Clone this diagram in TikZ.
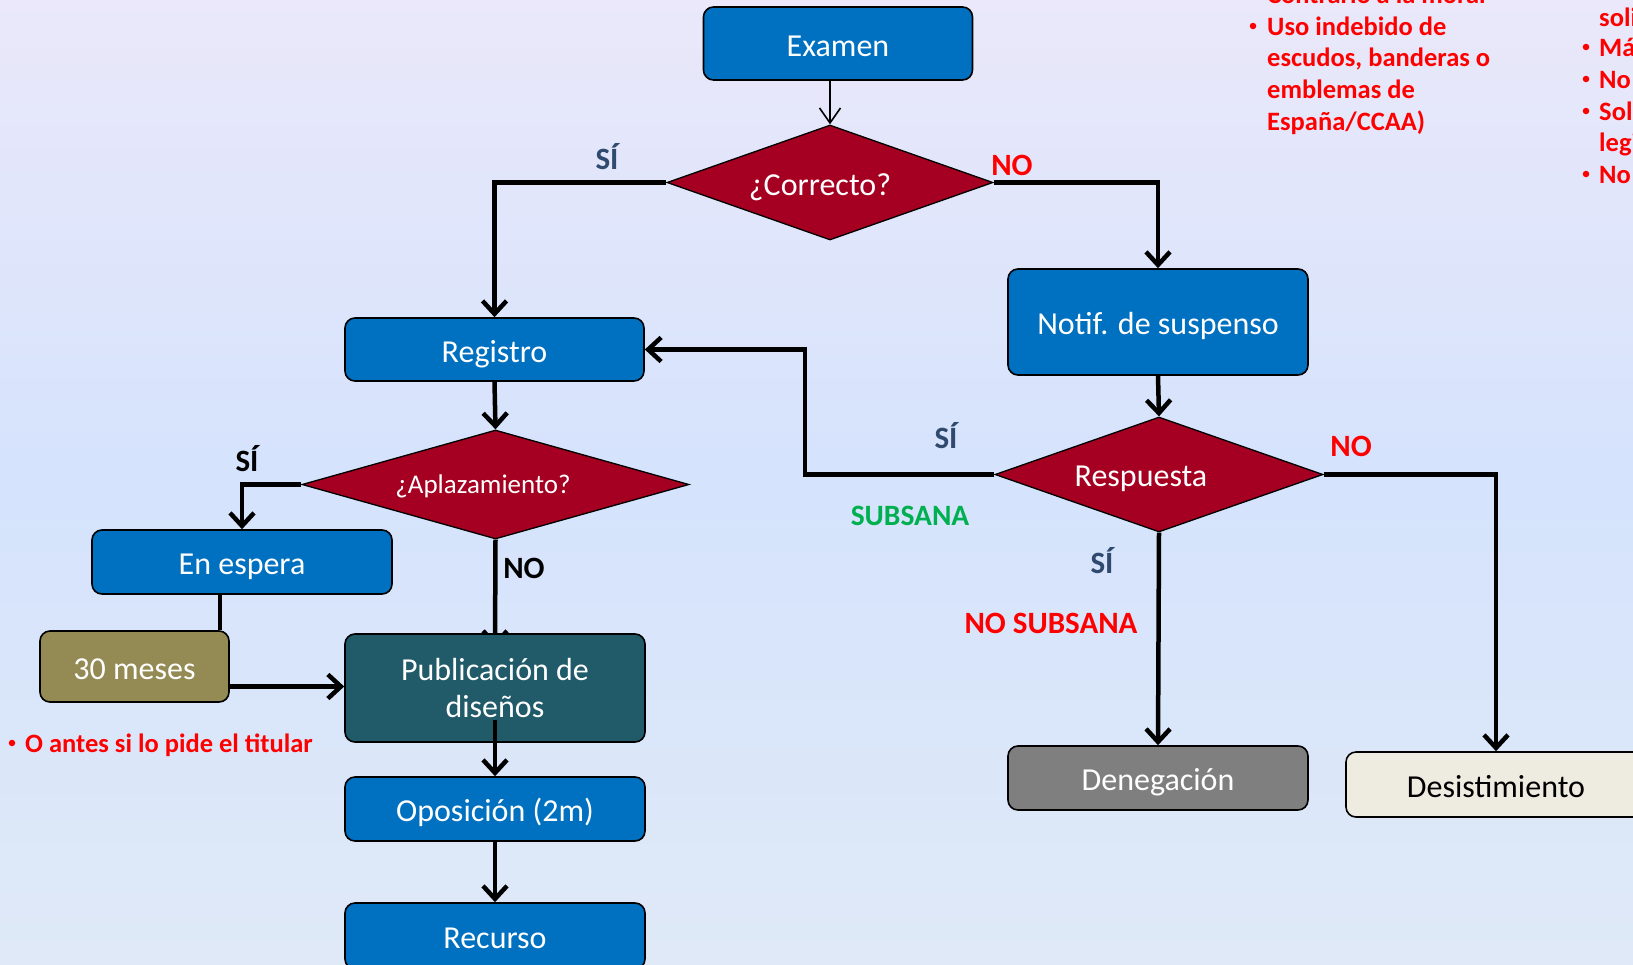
\documentclass[tikz,border=0pt]{standalone}
\usepackage{fontspec}
\setmainfont{Carlito}
\usetikzlibrary{shapes.geometric,arrows.meta,calc}
\definecolor{bgtop}{HTML}{EAE8FA}
\definecolor{bgmid}{HTML}{D5E3FC}
\definecolor{bgbot}{HTML}{DFE9F7}
\definecolor{boxblue}{HTML}{0070C0}
\definecolor{dred}{HTML}{A50021}
\definecolor{pubteal}{HTML}{215A68}
\definecolor{olivebox}{HTML}{948A54}
\definecolor{greybox}{HTML}{7F7F7F}
\definecolor{creambox}{HTML}{EEECE1}
\definecolor{siblue}{HTML}{2F4A6E}
\definecolor{nored}{HTML}{FF0000}
\definecolor{okgreen}{HTML}{00B050}
\pgfdeclarelayer{bg}
\pgfsetlayers{bg,main}
\begin{document}
\begin{tikzpicture}[x=1pt,y=-1pt,
  boxbase/.style={rectangle, rounded corners=10pt, draw=black, line width=1.6pt,
    fill=boxblue, text=white, inner sep=0pt, font=\fontsize{32}{37}\selectfont},
  box/.style={boxbase, text height=25pt, text depth=0pt},
  dia/.style={diamond, draw=black, line width=1.3pt, fill=dred, inner sep=0pt},
  dtext/.style={text=white, inner sep=0pt, font=\fontsize{32}{37}\selectfont,
    text height=22pt, text depth=0pt},
  lab/.style={inner sep=0pt, font=\bfseries\fontsize{31}{36}\selectfont,
    text height=20pt, text depth=0pt},
  note/.style={inner sep=0pt, text=nored, font=\bfseries\fontsize{26.5}{32}\selectfont,
    text height=17pt, text depth=0pt},
  bul/.style={circle, fill=nored, inner sep=0pt, minimum size=6.5pt},
  arr/.style={line width=4.5pt, -{Straight Barb[length=13pt,width=24pt]}},
  thinarr/.style={line width=1.6pt, -{Straight Barb[length=15pt,width=21pt]}},
  plain/.style={line width=4.5pt}
]
\begin{pgfonlayer}{bg}
  \shade[top color=bgtop, bottom color=bgmid] (0,0) rectangle (1633,481);
  \shade[top color=bgmid, bottom color=bgbot] (0,480) rectangle (1633,964);
\end{pgfonlayer}
\useasboundingbox (0,0) rectangle (1633,964);
\clip (0,0) rectangle (1633,964);

% nodes
\node[box, minimum width=269pt, minimum height=73pt] (exa) at (838,43.5) {Examen};
\node[dia, minimum width=326pt, minimum height=115pt] (cor) at (830,182.5) {};
\node[dtext] (corT) at (820,184) {¿Correcto?};
\node[box, minimum width=299pt, minimum height=63pt] (reg) at (494.5,349.5) {Registro};
\node[dia, minimum width=387pt, minimum height=109pt] (apl) at (495.5,484.5) {};
\node[dtext, font=\fontsize{27}{31}\selectfont, text height=18.4pt] (aplT) at (483,484) {¿Aplazamiento?};
\node[box, minimum width=300pt, minimum height=64pt] (esp) at (242,562) {En espera};
\node[box, fill=olivebox, minimum width=189pt, minimum height=71pt] (mes) at (134.5,666.5) {30 meses};
\node[boxbase, fill=pubteal, align=center, minimum width=300pt, minimum height=108pt] (pub) at (495,688) {Publicación de\\diseños};
\node[box, minimum width=300pt, minimum height=64pt] (opo) at (495,809) {Oposición (2m)};
\node[box, minimum width=300pt, minimum height=66pt] (rec) at (495,936) {Recurso};
\node[box, minimum width=300pt, minimum height=106pt] (notif) at (1158,322) {Notif. de suspenso};
\node[dia, minimum width=328pt, minimum height=115pt] (resp) at (1159,474.5) {};
\node[dtext] (respT) at (1141,475) {Respuesta};
\node[box, fill=greybox, minimum width=300pt, minimum height=64pt] (den) at (1158,778) {Denegación};
\node[box, fill=creambox, text=black, minimum width=300pt, minimum height=65pt] (des) at (1496,784.5) {Desistimiento};

% connectors
\draw[thinarr] (cor.north |- exa.south) -- (cor.north);
\draw[arr] (cor.west) -| (reg.north);
\draw[arr] (cor.east) -| (notif.north);
\draw[arr] (reg.south) -- (apl.north);
\draw[arr] (apl.west) -| (esp.north);
\begin{pgfonlayer}{bg}
  \draw[arr] (apl.south) -- ($(pub.north)+(0,14)$);
\end{pgfonlayer}
\draw[plain] ([xshift=-22pt]esp.south) -- ([xshift=-22pt]esp.south |- mes.north);
\draw[arr] ([yshift=-20pt]mes.east) -- ([yshift=-20pt]mes.east -| pub.west);
\draw[arr] ($(pub.center)+(0,32)$) -- (opo.north);
\draw[arr] (opo.south) -- (rec.north);
\draw[arr] (notif.south) -- (resp.north);
\coordinate (kink) at (805,474.5);
\draw[arr] (resp.west) -- (kink) |- (reg.east);
\draw[arr] (resp.east) -| (des.north);
\draw[arr] (resp.south) -- (den.north);

% labels
\node[lab, text=siblue] (l1) at (607,159) {SÍ};
\node[lab, text=nored] (l2) at (1012,165) {NO};
\node[lab, text=black] (l3) at (247,461) {SÍ};
\node[lab, text=black] (l4) at (524,568) {NO};
\node[lab, text=siblue] (l5) at (946,438) {SÍ};
\node[lab, text=okgreen, font=\bfseries\fontsize{29.5}{34}\selectfont, text height=19pt] (l6) at (910,516) {SUBSANA};
\node[lab, text=nored] (l7) at (1351,446) {NO};
\node[lab, text=siblue] (l8) at (1102,563) {SÍ};
\node[lab, text=nored] (l9) at (1051,623) {NO SUBSANA};

% footnote
\node[bul] (fnb) at (12,743) {};
\node[note, anchor=west] (fn) at (25,744) {O antes si lo pide el titular};

% top right notes, column 1
\node[note, anchor=west] (a0) at (1267,-5) {Contrario a la moral};
\node[bul] (a1b) at (1253,26) {};
\node[note, anchor=west] (a1) at (1267,27) {Uso indebido de};
\node[note, anchor=west] (a2) at (1267,58) {escudos, banderas o};
\node[note, anchor=west] (a3) at (1267,90) {emblemas de};
\node[note, anchor=west] (a4) at (1267,122) {España/CCAA)};

% top right notes, column 2
\node[note, anchor=west] (b0) at (1599,18) {soli};
\node[bul] (b1b) at (1586,47) {};
\node[note, anchor=west] (b1) at (1599,48) {Má};
\node[bul] (b2b) at (1586,79) {};
\node[note, anchor=west] (b2) at (1599,80) {No};
\node[bul] (b3b) at (1586,111) {};
\node[note, anchor=west] (b3) at (1599,112) {Sol};
\node[note, anchor=west] (b4) at (1599,143) {legi};
\node[bul] (b5b) at (1586,174) {};
\node[note, anchor=west] (b5) at (1599,175) {No};
\end{tikzpicture}
\end{document}
